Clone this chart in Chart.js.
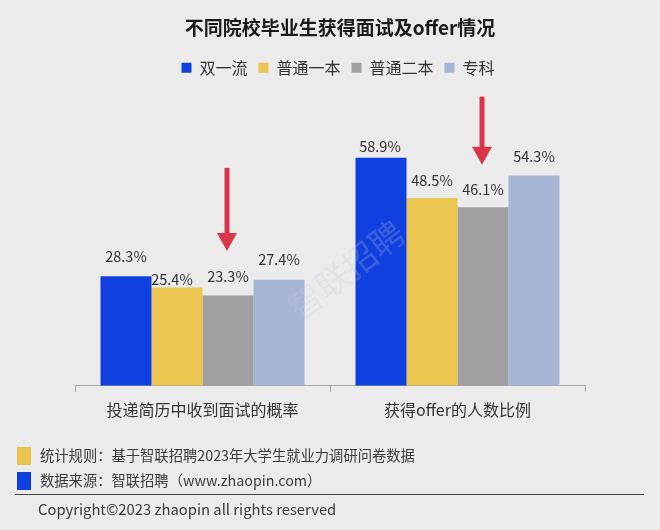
<!DOCTYPE html>
<html>
<head>
<meta charset="utf-8">
<script src="https://cdn.jsdelivr.net/npm/chart.js@4"></script>
<style>
  html, body { margin: 0; padding: 0; background: #ebebeb; }
  #wrap { position: relative; width: 660px; height: 530px; overflow: hidden; font-family: "Noto Sans CJK SC", sans-serif; color: #333; }
  #foot div { position: absolute; }
  .note { font-size: 14.3px; line-height: 20px; white-space: nowrap; color: #3a3a3a; }
</style>
</head>
<body>
<div id="wrap">
  <canvas id="chart" width="660" height="530"></canvas>
  <div id="foot">
    <div style="left:17px;top:447px;width:14px;height:18px;background:#eac54f"></div>
    <div style="left:17px;top:472px;width:14px;height:18px;background:#1040e0"></div>
    <div class="note" style="left:40px;top:445px">统计规则&#xFF1A;基于智联招聘2023年大学生就业力调研问卷数据</div>
    <div class="note" style="left:40px;top:470px">数据来源&#xFF1A;智联招聘&#xFF08;www.zhaopin.com&#xFF09;</div>
    <div style="left:15px;top:494px;width:629px;height:1px;background:#444"></div>
    <div class="note" style="left:38px;top:499px;font-size:14.8px">Copyright©2023 zhaopin all rights reserved</div>
  </div>
</div>
<script>
const categories = ["投递简历中收到面试的概率", "获得offer的人数比例"];
const seriesNames = ["双一流", "普通一本", "普通二本", "专科"];
const shuangyiliu = [28.3, 58.9];
const putongYiben = [25.4, 48.5];
const putongErben = [23.3, 46.1];
const zhuanke = [27.4, 54.3];
const colors = ["#1040e0", "#eac54f", "#a0a0a0", "#a8b6d6"];

// arrows sit over the third bar of each group, values on the y axis
const arrowTips = [34.8, 57.1];
const arrowTails = [56.3, 74.7];

// label nudges in px [dx, dy], the source labels are placed by hand
const labelNudge = [
  [[0, -12], [-5, 0], [0, -11], [0, -12]],
  [[-1, -3], [0, -9], [0, -10], [0, -11]],
];

const labelPlugin = {
  id: "barLabels",
  afterDatasetsDraw(chart) {
    const c = chart.ctx;
    c.save();
    c.font = '14.5px "Noto Sans CJK SC"';
    c.fillStyle = "#333";
    c.textAlign = "center";
    c.textBaseline = "bottom";
    chart.data.datasets.forEach((ds, i) => {
      chart.getDatasetMeta(i).data.forEach((bar, j) => {
        const n = labelNudge[j][i];
        c.fillText(ds.data[j].toFixed(1) + "%", bar.x + n[0], bar.y - 1 + n[1]);
      });
    });
    c.restore();
  },
};

const arrowPlugin = {
  id: "arrows",
  afterDatasetsDraw(chart) {
    const c = chart.ctx;
    const y = chart.scales.y;
    c.save();
    c.fillStyle = "#d9364a";
    chart.getDatasetMeta(2).data.forEach((bar, j) => {
      const tip = y.getPixelForValue(arrowTips[j]);
      const tail = y.getPixelForValue(arrowTails[j]);
      const x = bar.x - 1;
      c.fillRect(x - 2.5, tail, 5, tip - tail - 16);
      c.beginPath();
      c.moveTo(x - 10, tip - 18);
      c.lineTo(x + 10, tip - 18);
      c.lineTo(x, tip);
      c.closePath();
      c.fill();
    });
    c.restore();
  },
};

const watermarkPlugin = {
  id: "watermark",
  afterDatasetsDraw(chart) {
    const c = chart.ctx;
    c.save();
    c.translate(346, 270);
    c.rotate(-38 * Math.PI / 180);
    c.font = '34px "Noto Sans CJK SC"';
    c.fillStyle = "rgba(195,200,212,0.24)";
    c.textAlign = "center";
    c.textBaseline = "middle";
    c.fillText("智联招聘", 0, 0);
    c.restore();
  },
};

// title and legend sit right of the plot centre in the source
const headerShift = {
  id: "headerShift",
  afterLayout(chart) {
    chart.titleBlock.left += 10;
    chart.titleBlock.right += 10;
    chart.legend.left += 8;
    chart.legend.right += 8;
  },
};

new Chart(document.querySelector("#chart"), {
  type: "bar",
  data: {
    labels: categories,
    datasets: [shuangyiliu, putongYiben, putongErben, zhuanke].map((values, i) => ({
      label: seriesNames[i],
      data: values,
      backgroundColor: colors[i],
      categoryPercentage: 0.8,
      barPercentage: 1,
    })),
  },
  options: {
    responsive: false,
    animation: false,
    layout: { padding: { left: 75, right: 75, top: 16, bottom: 101 } },
    plugins: {
      title: {
        display: true,
        text: "不同院校毕业生获得面试及offer情况",
        color: "#1a1a1a",
        font: { family: "Noto Sans CJK SC", size: 19, weight: "bold" },
        padding: { top: 0, bottom: 10 },
      },
      legend: {
        position: "top",
        labels: {
          boxWidth: 10,
          boxHeight: 10,
          color: "#333",
          font: { family: "Noto Sans CJK SC", size: 16 },
          padding: 11,
        },
      },
      tooltip: { enabled: false },
    },
    scales: {
      x: {
        grid: { drawOnChartArea: false, color: "#a8a8a8", tickLength: 6 },
        border: { color: "#a8a8a8" },
        ticks: { color: "#333", font: { family: "Noto Sans CJK SC", size: 16 }, padding: 9 },
      },
      y: { display: false, min: 0, max: 77.5 },
    },
  },
  plugins: [labelPlugin, arrowPlugin, watermarkPlugin, headerShift],
});
</script>
</body>
</html>
